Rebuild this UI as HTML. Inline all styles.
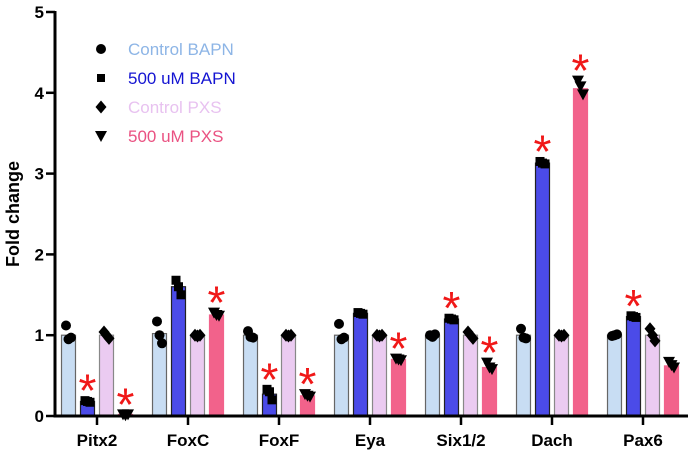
<!DOCTYPE html>
<html><head><meta charset="utf-8"><style>
body{margin:0;background:#fff;}
svg{display:block;font-family:"Liberation Sans",Arial,sans-serif;}
</style></head><body>
<svg id="chart" width="693" height="454" viewBox="0 0 693 454"></svg>
<script>
const categories=["Pitx2","FoxC","FoxF","Eya","Six1/2","Dach","Pax6"];
const seriesNames=["Control BAPN","500 uM BAPN","Control PXS","500 uM PXS"];
const ctrlBapn=[1.0,1.02,1.0,1.0,1.0,1.0,1.0];
const bapn=[0.18,1.6,0.27,1.27,1.2,3.13,1.23];
const ctrlPxs=[1.0,1.0,1.0,1.0,1.0,1.0,1.0];
const pxs=[0.02,1.25,0.25,0.7,0.6,4.05,0.62];
const ctrlBapnPts=[[1.12,0.95,0.97],[1.17,1.0,0.9],[1.05,0.98,0.97],[1.14,0.95,0.97],[1.0,0.98,1.01],[1.08,0.97,0.96],[0.99,1.0,1.01]];
const bapnPts=[[0.19,0.18,0.17],[1.68,1.6,1.5],[0.33,0.3,0.2],[1.28,1.27,1.26],[1.21,1.2,1.19],[3.15,3.13,3.12],[1.24,1.23,1.22]];
const ctrlPxsPts=[[1.04,1.0,0.96],[1.0,0.99,1.0],[1.0,0.99,1.0],[1.0,0.99,1.0],[1.04,1.0,0.96],[1.0,0.99,1.0],[1.08,1.0,0.93]];
const pxsPts=[[0.02,0.01,0.02],[1.28,1.25,1.24],[0.27,0.25,0.24],[0.71,0.7,0.69],[0.66,0.6,0.58],[4.15,4.08,3.98],[0.67,0.63,0.6]];
const sigBapn=[1,0,1,0,1,1,1];
const sigPxs=[1,1,1,1,1,1,0];
const yTicks=[0,1,2,3,4,5];

const NS="http://www.w3.org/2000/svg";
const svg=document.getElementById("chart");
const y0=416,yUnit=80.8,axX=55;
const y=v=>y0-v*yUnit;
const xc=i=>97+91*i;
const offs=[-28.5,-9.5,9.5,28.5];
const fills=["#c8ddf3","#4b4be8","#ebcbf1","#f2628b"];
const strokes=["#666","#222","#888","#f2628b"];
const values=[ctrlBapn,bapn,ctrlPxs,pxs];
const pts=[ctrlBapnPts,bapnPts,ctrlPxsPts,pxsPts];
const legendColors=["#8db5e6","#1414d2","#e8c2f0","#ea5282"];
function mk(t,a,p){const e=document.createElementNS(NS,t);for(const k in a)e.setAttribute(k,a[k]);(p||svg).appendChild(e);return e;}
function marker(s,cx,cy,r,p){
 if(s===0)return mk("circle",{cx:cx,cy:cy,r:r,fill:"#000"},p);
 if(s===1)return mk("rect",{x:cx-r,y:cy-r,width:2*r,height:2*r,fill:"#000"},p);
 if(s===2)return mk("polygon",{points:`${cx},${cy-r*1.3} ${cx+r*1.1},${cy} ${cx},${cy+r*1.3} ${cx-r*1.1},${cy}`,fill:"#000"},p);
 return mk("polygon",{points:`${cx-r*1.2},${cy-r} ${cx+r*1.2},${cy-r} ${cx},${cy+r*1.2}`,fill:"#000"},p);
}
for(let s=0;s<4;s++){
 for(let i=0;i<categories.length;i++){
  const v=values[s][i],cx=xc(i)+offs[s];
  const b=mk("rect",{x:cx-7,y:y(v),width:14,height:y0-y(v),fill:fills[s],stroke:strokes[s],"stroke-width":1.2});
  
  
  pts[s][i].forEach((pv,k)=>{
   const m=marker(s,cx+(k-1)*2.5,y(pv),s===1?4.5:5);
   
   
  });
  const sig=(s===1&&sigBapn[i])||(s===3&&sigPxs[i]);
  if(sig){
   const top=Math.max(...pts[s][i]);
   const t=mk("text",{x:cx,y:y(top)+6,"text-anchor":"middle","font-size":46,fill:"#f01818"});
   t.textContent="*";
   
   
  }
 }
}
const ya=mk("line",{x1:axX,y1:11,x2:axX,y2:y0+1.5,stroke:"#000","stroke-width":3});


const xa=mk("line",{x1:axX-1.5,y1:y0,x2:688,y2:y0,stroke:"#000","stroke-width":3});


yTicks.forEach(t=>{
 mk("line",{x1:axX-9,y1:y(t),x2:axX,y2:y(t),stroke:"#000","stroke-width":2.5});
 const l=mk("text",{x:axX-11,y:y(t)+6,"text-anchor":"end","font-size":17,"font-weight":"bold"});
 l.textContent=t;
 
 
});
categories.forEach((c,i)=>{
 mk("line",{x1:xc(i),y1:y0,x2:xc(i),y2:y0+9,stroke:"#000","stroke-width":2.5});
 const l=mk("text",{x:xc(i),y:446,"text-anchor":"middle","font-size":17,"font-weight":"bold"});
 l.textContent=c;
 
 
});
const yt=mk("text",{x:19,y:214,"text-anchor":"middle","font-size":18,"font-weight":"bold",transform:"rotate(-90 19 214)"});
yt.textContent="Fold change";


seriesNames.forEach((n,s)=>{
 const g=mk("g",{});
 
 
 const ly=49+29*s;
 marker(s,101,ly,s===1?4:5,g);
 const t=mk("text",{x:128,y:ly+6,"font-size":17,fill:legendColors[s]},g);
 t.textContent=n;
});
</script>
</body></html>
